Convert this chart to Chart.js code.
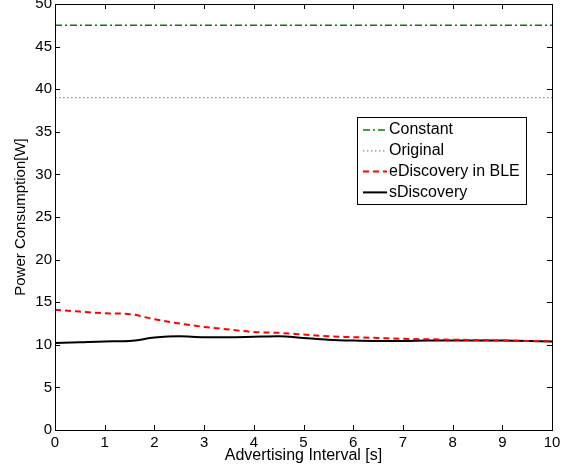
<!DOCTYPE html>
<html>
<head>
<meta charset="utf-8">
<script src="https://cdn.jsdelivr.net/npm/chart.js@4"></script>
<style>
  body { margin: 0; background: #fff; }
  canvas { display: block; }
</style>
</head>
<body>
<canvas id="powerChart" width="573" height="473"></canvas>
<script>
// advertising interval (s) sampled along the x axis
const intervals = [0, 0.5, 1, 1.5, 2, 2.5, 3, 3.5, 4, 4.5, 5, 5.5, 6, 6.5, 7, 7.5, 8, 8.5, 9, 9.5, 10];

// power consumption readings (W)
const constantPower = [47.5, 47.5, 47.5, 47.5, 47.5, 47.5, 47.5, 47.5, 47.5, 47.5, 47.5, 47.5, 47.5, 47.5, 47.5, 47.5, 47.5, 47.5, 47.5, 47.5, 47.5];
const originalPower = [39, 39, 39, 39, 39, 39, 39, 39, 39, 39, 39, 39, 39, 39, 39, 39, 39, 39, 39, 39, 39];
const eDiscoveryPower = [14.1, 13.9, 13.7, 13.6, 13.0, 12.5, 12.1, 11.8, 11.5, 11.4, 11.2, 11.0, 10.9, 10.8, 10.7, 10.65, 10.6, 10.55, 10.5, 10.45, 10.4];
const sDiscoveryPower = [10.2, 10.3, 10.4, 10.45, 10.85, 11.0, 10.9, 10.9, 10.95, 11.0, 10.8, 10.6, 10.5, 10.45, 10.45, 10.5, 10.5, 10.5, 10.5, 10.45, 10.4];

const seriesNames = ['Constant', 'Original', 'eDiscovery in BLE', 'sDiscovery'];

const FONT = '"Liberation Sans", Arial, Helvetica, sans-serif';

function toPoints(values) {
    return values.map((v, i) => ({ x: intervals[i], y: v }));
}

// frame with inward ticks on all four sides, MATLAB style
const frameTicks = {
    id: 'frameTicks',
    afterDatasetsDraw(chart) {
        const { ctx, chartArea: a, scales } = chart;
        const len = 5;
        ctx.save();
        ctx.strokeStyle = '#000';
        ctx.lineWidth = 1;
        ctx.beginPath();
        scales.x.ticks.forEach(t => {
            const px = Math.round(scales.x.getPixelForValue(t.value)) + 0.5;
            ctx.moveTo(px, a.bottom); ctx.lineTo(px, a.bottom - len);
            ctx.moveTo(px, a.top); ctx.lineTo(px, a.top + len);
        });
        scales.y.ticks.forEach(t => {
            const py = Math.round(scales.y.getPixelForValue(t.value)) + 0.5;
            ctx.moveTo(a.left, py); ctx.lineTo(a.left + len, py);
            ctx.moveTo(a.right, py); ctx.lineTo(a.right - len, py);
        });
        ctx.stroke();
        ctx.strokeRect(Math.round(a.left) + 0.5, Math.round(a.top) + 0.5,
            Math.round(a.right - a.left), Math.round(a.bottom - a.top));
        ctx.restore();
    },
};

// boxed legend sitting inside the plot area
const boxLegend = {
    id: 'boxLegend',
    afterDraw(chart) {
        const { ctx, chartArea: a } = chart;
        const boxW = 169, boxH = 87;
        const x0 = a.right - 26 - boxW;
        const y0 = a.top + 113;
        ctx.save();
        ctx.fillStyle = '#fff';
        ctx.fillRect(x0, y0, boxW, boxH);
        ctx.strokeStyle = '#000';
        ctx.lineWidth = 1;
        ctx.strokeRect(x0 + 0.5, y0 + 0.5, boxW, boxH);
        ctx.font = '16px ' + FONT;
        ctx.textBaseline = 'middle';
        chart.data.datasets.forEach((ds, i) => {
            const cy = y0 + 13 + i * 20.8;
            ctx.strokeStyle = ds.borderColor;
            ctx.lineWidth = ds.borderWidth;
            ctx.setLineDash(ds.borderDash || []);
            ctx.beginPath();
            ctx.moveTo(x0 + 6, cy);
            ctx.lineTo(x0 + 30, cy);
            ctx.stroke();
            ctx.setLineDash([]);
            ctx.fillStyle = '#000';
            ctx.fillText(ds.label, x0 + 32, cy);
        });
        ctx.restore();
    },
};

const ctx = document.getElementById('powerChart').getContext('2d');
new Chart(ctx, {
    type: 'line',
    data: {
        datasets: [
            {
                label: seriesNames[0],
                data: toPoints(constantPower),
                borderColor: '#008000',
                borderWidth: 1.5,
                borderDash: [7, 3, 2, 3],
                pointRadius: 0,
            },
            {
                label: seriesNames[1],
                data: toPoints(originalPower),
                borderColor: '#7f7fff',
                borderWidth: 1.2,
                borderDash: [1.5, 2.5],
                pointRadius: 0,
            },
            {
                label: seriesNames[2],
                data: toPoints(eDiscoveryPower),
                borderColor: '#ff0000',
                borderWidth: 2,
                borderDash: [6, 4],
                pointRadius: 0,
                cubicInterpolationMode: 'monotone',
            },
            {
                label: seriesNames[3],
                data: toPoints(sDiscoveryPower),
                borderColor: '#000000',
                borderWidth: 2,
                pointRadius: 0,
                cubicInterpolationMode: 'monotone',
            },
        ],
    },
    options: {
        responsive: false,
        animation: false,
        layout: { padding: { top: 4, right: 21, left: 0, bottom: 0 } },
        plugins: {
            legend: { display: false },
            tooltip: { enabled: false },
        },
        scales: {
            x: {
                type: 'linear',
                min: 0,
                max: 10,
                ticks: {
                    stepSize: 1,
                    padding: 4,
                    maxRotation: 0,
                    color: '#000',
                    font: { family: FONT, size: 15 },
                },
                grid: { display: false, drawTicks: false },
                border: { display: false },
                title: {
                    display: true,
                    text: 'Advertising Interval [s]',
                    color: '#000',
                    font: { family: FONT, size: 16 },
                    padding: { top: 0, bottom: 8 },
                },
                afterFit(scale) {
                    scale.height = 43;
                    scale.paddingLeft = 0;
                    scale.paddingRight = 0;
                },
            },
            y: {
                min: 0,
                max: 50,
                ticks: {
                    stepSize: 5,
                    padding: 3,
                    color: '#000',
                    font: { family: FONT, size: 15 },
                },
                grid: { display: false, drawTicks: false },
                border: { display: false },
                title: {
                    display: true,
                    text: 'Power Consumption[W]',
                    color: '#000',
                    font: { family: FONT, size: 15 },
                    padding: { top: 12, bottom: 0 },
                },
                afterFit(scale) {
                    scale.width = 55;
                    scale.paddingTop = 0;
                    scale.paddingBottom = 0;
                },
            },
        },
    },
    plugins: [frameTicks, boxLegend],
});
</script>
</body>
</html>
